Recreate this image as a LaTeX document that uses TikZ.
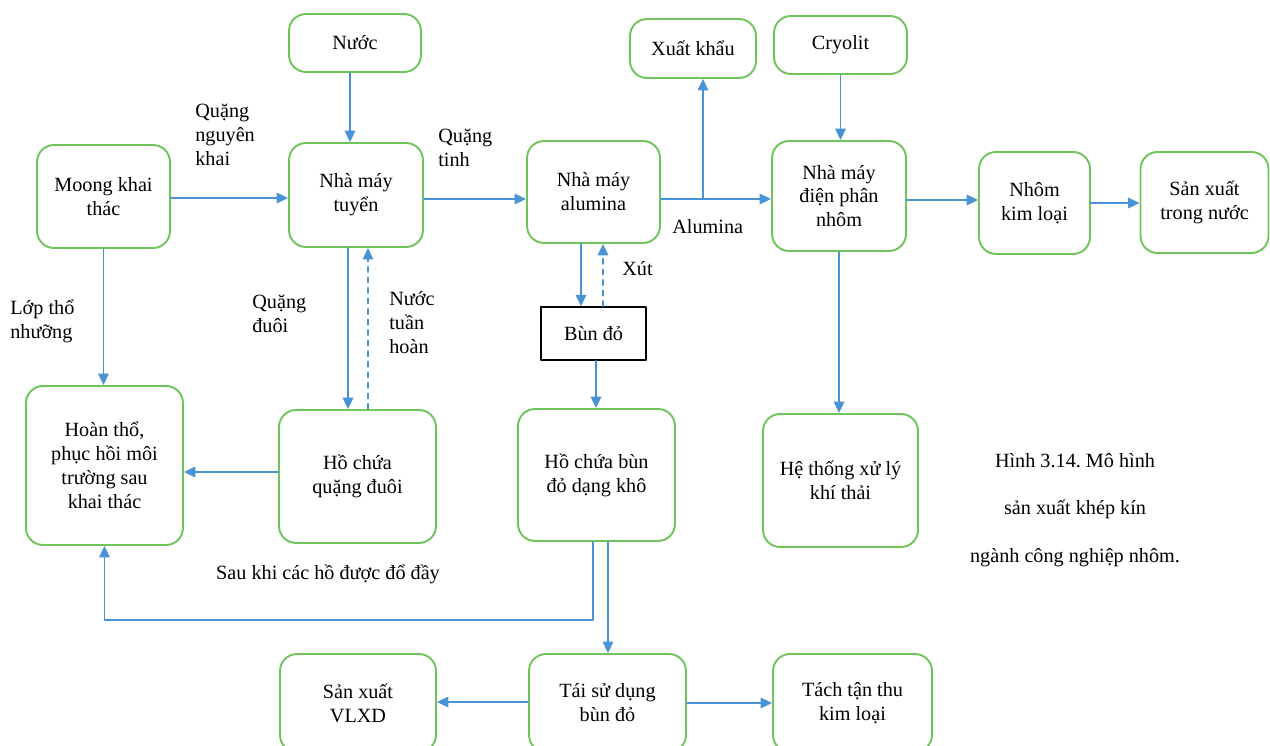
\documentclass[tikz,border=0pt]{standalone}
\usepackage{fontspec}
\setmainfont{Liberation Serif}
\usetikzlibrary{arrows.meta}
\definecolor{boxgreen}{RGB}{112,196,92}
\definecolor{flowblue}{RGB}{72,146,214}
\frenchspacing
\begin{document}
\begin{tikzpicture}[x=0.02cm,y=-0.02cm,line cap=round,line join=round,
    font=\fontsize{11.5}{13.6}\selectfont,
    proc/.style={draw=boxgreen,line width=1.1pt,rounded corners=0.34cm,align=center,inner sep=2pt},
    mudbox/.style={draw=black,line width=0.9pt,align=center,inner sep=2pt},
    flow/.style={draw=flowblue,line width=0.9pt,-{Triangle[length=6.5pt,width=6pt]}},
    lbl/.style={align=left,anchor=north west,inner sep=0pt}]
    \useasboundingbox (0,0) rectangle (1270,746);

    \node[proc,minimum width=2.64cm,minimum height=1.16cm] (nuoc) at (355,43) {Nước};
    \node[proc,minimum width=2.66cm,minimum height=2.06cm] (moong) at (103.5,196.5) {Moong khai\\thác};
    \node[proc,minimum width=2.68cm,minimum height=2.08cm] (tuyen) at (356,195) {Nhà máy\\tuyển};
    \node[proc,minimum width=2.66cm,minimum height=2.04cm] (alumina) at (593.5,192) {Nhà máy\\alumina};
    \node[proc,minimum width=2.52cm,minimum height=1.18cm] (xuatkhau) at (693,48.5) {Xuất khẩu};
    \node[proc,minimum width=2.66cm,minimum height=1.16cm] (cryolit) at (840.5,45) {Cryolit};
    \node[proc,minimum width=2.68cm,minimum height=2.20cm] (dienphan) at (839,196) {Nhà máy\\điện phân\\nhôm};
    \node[proc,minimum width=2.22cm,minimum height=2.04cm] (nhomkl) at (1034.5,203) {Nhôm\\kim loại};
    \node[proc,minimum width=2.56cm,minimum height=2.02cm] (sxtn) at (1204.5,202.5) {Sản xuất\\trong nước};
    \node[mudbox,minimum width=2.10cm,minimum height=1.06cm] (bundo) at (593.5,333.5) {Bùn đỏ};
    \node[proc,minimum width=3.14cm,minimum height=3.18cm] (hoantho) at (104.5,465.5) {Hoàn thổ,\\phục hồi môi\\trường sau\\khai thác};
    \node[proc,minimum width=3.14cm,minimum height=2.66cm] (hoquang) at (357.5,476.5) {Hồ chứa\\quặng đuôi};
    \node[proc,minimum width=3.14cm,minimum height=2.64cm] (hobun) at (596.5,475) {Hồ chứa bùn\\đỏ dạng khô};
    \node[proc,minimum width=3.10cm,minimum height=2.66cm] (khithai) at (840.5,480.5) {Hệ thống xử lý\\khí thải};
    \node[proc,minimum width=3.12cm,minimum height=1.96cm] (vlxd) at (358,703) {Sản xuất\\VLXD};
    \node[proc,minimum width=3.14cm,minimum height=1.96cm] (taisd) at (607.5,703) {Tái sử dụng\\bùn đỏ};
    \node[proc,minimum width=3.18cm,minimum height=1.96cm] (tachtt) at (852.5,703) {Tách tận thu\\kim loại};

    \node[lbl] (lquangnk) at (195,104) {Quặng\\nguyên\\khai};
    \node[lbl] (lquangt) at (438,129) {Quặng\\tinh};
    \node[lbl] (lalu) at (672,219) {Alumina};
    \node[lbl] (lxut) at (622,261) {Xút};
    \node[lbl] (llop) at (10,300) {Lớp thổ\\nhưỡng};
    \node[lbl] (lduoi) at (252,295) {Quặng\\đuôi};
    \node[lbl] (ltuan) at (389,291) {Nước\\tuần\\hoàn};
    \node (lsau) at (328,574) {Sau khi các hồ được đổ đầy};

    \node (cap1) at (1075,461) {Hình 3.14. Mô hình};
    \node (cap2) at (1075,509) {sản xuất khép kín};
    \node (cap3) at (1075,558) {ngành công nghiệp nhôm.};

    \draw[flow] ([xshift=-0.1cm]nuoc.south) -- ([xshift=-0.1cm]nuoc.south |- tuyen.north);
    \draw[flow] ([yshift=-0.03cm]moong.east) -- ([yshift=-0.03cm]moong.east -| tuyen.west);
    \draw[flow] ([yshift=-0.08cm]tuyen.east) -- ([yshift=-0.08cm]tuyen.east -| alumina.west);
    \coordinate (alu) at ([yshift=-0.14cm]alumina.east);
    \draw[flow] (alu) -- (alu -| dienphan.west);
    \draw[flow] ([xshift=0.2cm]xuatkhau.south |- alu) -- ([xshift=0.2cm]xuatkhau.south);
    \draw[flow] (cryolit.south) -- (cryolit.south |- dienphan.north);
    \draw[flow] ([yshift=-0.08cm]dienphan.east) -- ([yshift=-0.08cm]dienphan.east -| nhomkl.west);
    \draw[flow] (nhomkl.east) -- (nhomkl.east -| sxtn.west);

    \draw[flow] ([xshift=-0.16cm]tuyen.south) -- ([xshift=-0.16cm]tuyen.south |- hoquang.north);
    \draw[flow,dashed] ([xshift=0.24cm]tuyen.south |- hoquang.north) -- ([xshift=0.24cm]tuyen.south);
    \draw[flow] (moong.south) -- (moong.south |- hoantho.north);
    \draw[flow] ([yshift=0.09cm]hoquang.west) -- ([yshift=0.09cm]hoquang.west -| hoantho.east);

    \draw[flow] ([xshift=-0.25cm]alumina.south) -- ([xshift=-0.25cm]alumina.south |- bundo.north);
    \draw[flow,dashed] ([xshift=0.19cm]alumina.south |- bundo.north) -- ([xshift=0.19cm]alumina.south);
    \draw[flow] ([xshift=0.05cm]bundo.south) -- ([xshift=0.05cm]bundo.south |- hobun.north);
    \draw[flow] ([xshift=-0.07cm]hobun.south) -- ++(0,78) -| (hoantho.south);
    \draw[flow] ([xshift=0.23cm]hobun.south) -- ([xshift=0.23cm]hobun.south |- taisd.north);

    \draw[flow] (dienphan.south) -- (dienphan.south |- khithai.north);
    \draw[flow] ([yshift=0.02cm]taisd.west) -- ([yshift=0.02cm]taisd.west -| vlxd.east);
    \draw[flow] (taisd.east) -- (taisd.east -| tachtt.west);
\end{tikzpicture}
\end{document}
